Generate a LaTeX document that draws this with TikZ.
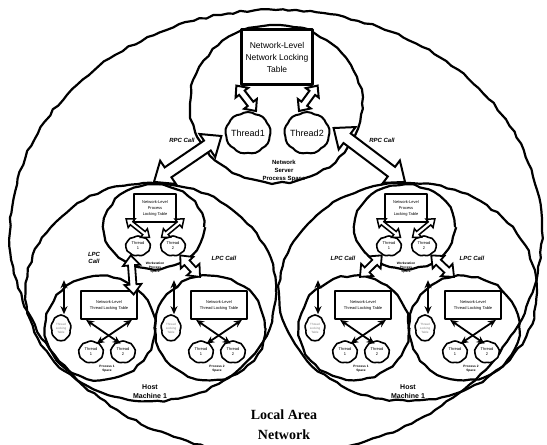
\documentclass[tikz,border=0pt]{standalone}
\usepackage{fontspec}
\setmainfont{Liberation Sans}
\newfontfamily\lanfont{Liberation Serif}
\usetikzlibrary{shapes.geometric,shapes.symbols,arrows.meta,decorations.pathmorphing,calc}
% hollow double-headed arrow: #1 options, #2 from, #3 to, #4 shaft half width, #5 head half width, #6 head length
\newcommand{\hollowdbl}[6]{%
  \draw[#1] (#2) -- ($(#2)!#6!(#3)!#5!90:(#3)$) -- ($(#2)!#6!(#3)!#4!90:(#3)$)
    -- ($(#3)!#6!(#2)!#4!-90:(#2)$) -- ($(#3)!#6!(#2)!#5!-90:(#2)$) -- (#3)
    -- ($(#3)!#6!(#2)!#5!90:(#2)$) -- ($(#3)!#6!(#2)!#4!90:(#2)$)
    -- ($(#2)!#6!(#3)!#4!-90:(#3)$) -- ($(#2)!#6!(#3)!#5!-90:(#3)$) -- cycle;}
\begin{document}
\begin{tikzpicture}[x=1pt,y=-1pt,line join=round,
  rough/.style={draw,line width=2.2pt,decorate,decoration={random steps,segment length=7pt,amplitude=1.1pt}},
  blob/.style={rough,ellipse,inner sep=0pt},
  tbox/.style={draw,line width=2.2pt,fill=white,align=center,inner sep=1pt},
  thr/.style={draw,line width=2pt,cloud,cloud puffs=9,cloud puff arc=70,cloud ignores aspect,fill=white,align=center,inner sep=0pt},
  harr/.style={draw,fill=white,line width=2pt,line join=miter,miter limit=3},
  blkarr/.style={line width=1.8pt,{Stealth[length=8pt,width=7pt]}-{Stealth[length=8pt,width=7pt]}},
  lbl/.style={font=\bfseries\itshape\fontsize{6}{7}\selectfont,align=center},
  tiny/.style={font=\bfseries\fontsize{3.2}{4}\selectfont,align=center}
]
\pgfmathsetseed{11}
\useasboundingbox (0,0) rectangle (547,445);
% LAN
\node[blob,minimum width=532pt,minimum height=444pt] (lan) at (276,232) {};
\node[font=\lanfont\bfseries\fontsize{14}{20}\selectfont,align=center] (lanl) at (284,425) {Local Area\\Network};
% server
\node[blob,minimum width=172pt,minimum height=158pt] (srv) at (276,104) {};
\node[tbox,minimum width=71pt,minimum height=55pt,font=\fontsize{8.5}{12}\selectfont] (tbl) at (277,57) {Network-Level\\Network Locking\\Table};
\node[thr,minimum width=40pt,minimum height=42pt,font=\fontsize{9}{10}\selectfont] (s1) at (248,133) {Thread1};
\node[thr,minimum width=44pt,minimum height=42pt,font=\fontsize{9}{10}\selectfont] (s2) at (307,133) {Thread2};
\node[font=\bfseries\fontsize{6}{8}\selectfont,align=center] (srvl) at (284,171) {Network\\Server\\Process Space};
\coordinate (a1) at ([xshift=-4pt]tbl.south west);
\coordinate (a2) at ([xshift=8pt]s1.north);
\coordinate (a3) at ([xshift=4pt]tbl.south east);
\coordinate (a4) at ([xshift=-8pt]s2.north);
\hollowdbl{harr}{a1}{a2}{3.5pt}{8pt}{9pt}
\hollowdbl{harr}{a3}{a4}{3.5pt}{8pt}{9pt}
% hosts
\node[blob,minimum width=250pt,minimum height=218pt] (h1) at (151,292) {};
\node[blob,minimum width=258pt,minimum height=218pt] (h2) at (408,292) {};
\node[font=\bfseries\fontsize{7}{9}\selectfont,align=center] (h1l) at (150,392) {Host\\Machine 1};
\node[font=\bfseries\fontsize{7}{9}\selectfont,align=center] (h2l) at (408,392) {Host\\Machine 1};
% client process spaces
\foreach \n/\x in {1/154,2/405}{
  \node[blob,minimum width=100pt,minimum height=84pt] (cp\n) at (\x,227) {};
  \node[tbox,line width=1.8pt,minimum width=42pt,minimum height=28pt,font=\fontsize{4}{6}\selectfont] (cb\n) at (\x+1,208) {Network-Level\\Process\\Locking Table};
  \node[thr,line width=1.6pt,minimum width=25pt,minimum height=20pt,font=\fontsize{4}{5}\selectfont] (ct\n1) at (\x-16,246) {Thread\\1};
  \node[thr,line width=1.6pt,minimum width=25pt,minimum height=20pt,font=\fontsize{4}{5}\selectfont] (ct\n2) at (\x+19,246) {Thread\\2};
  \node[tiny] (cpl\n) at (\x+1,268) {Workstation\\Process\\Space};
  \coordinate (c\n a) at ([shift={(-7pt,4pt)}]cb\n.south west);
  \coordinate (c\n b) at ([shift={(2pt,1pt)}]ct\n1.north east);
  \coordinate (c\n c) at ([shift={(7pt,4pt)}]cb\n.south east);
  \coordinate (c\n d) at ([shift={(-2pt,1pt)}]ct\n2.north west);
  \hollowdbl{harr,line width=1.5pt}{c\n a}{c\n b}{2pt}{5.5pt}{7pt}
  \hollowdbl{harr,line width=1.5pt}{c\n c}{c\n d}{2pt}{5.5pt}{7pt}
}
% inner thread spaces
\foreach \n/\x/\q in {11/100/1,12/210/2,21/354/1,22/464/2}{
  \node[blob,minimum width=110pt,minimum height=104pt] (p\n) at (\x,328) {};
  \node[tbox,line width=1.8pt,minimum width=56pt,minimum height=28pt,font=\fontsize{4}{6}\selectfont] (b\n) at (\x+9,305) {Network-Level\\Thread Locking Table};
  \node[thr,line width=1.6pt,minimum width=25pt,minimum height=22pt,font=\fontsize{4}{5}\selectfont] (t\n a) at (\x-9,352) {Thread\\1};
  \node[thr,line width=1.6pt,minimum width=25pt,minimum height=22pt,font=\fontsize{4}{5}\selectfont] (t\n b) at (\x+23,352) {Thread\\2};
  \node[thr,line width=1.6pt,minimum width=20pt,minimum height=26pt,font=\fontsize{3}{4}\selectfont,text=gray] (lk\n) at (\x-39,328) {Thread\\Locking\\Table};
  \node[tiny] (pl\n) at (\x+7,369) {Process \q\\Space};
  \draw[blkarr] ([xshift=6pt]b\n.south west) -- ([xshift=7pt]t\n b.north west);
  \draw[blkarr] ([xshift=-6pt]b\n.south east) -- ([xshift=-4pt]t\n a.north east);
  \draw[blkarr] ([xshift=3pt]lk\n.north) -- ([shift={(3pt,34pt)}]lk\n.north);
}
% RPC calls between server and hosts
\coordinate (r1) at ([shift={(-3pt,-3pt)}]s1.west);
\coordinate (r2) at ([yshift=2pt]cp1.north);
\coordinate (r3) at ([shift={(3pt,5pt)}]s2.east);
\coordinate (r4) at ([yshift=2pt]cp2.north);
\hollowdbl{harr}{r1}{r2}{6pt}{14pt}{17pt}
\hollowdbl{harr}{r3}{r4}{6pt}{14pt}{17pt}
\node[lbl] (rpcl) at (182,140) {RPC Call};
\node[lbl] (rpcr) at (382,140) {RPC Call};
% LPC calls inside hosts
\coordinate (q1) at ([shift={(2pt,-2pt)}]ct11.south west);
\coordinate (q2) at ([shift={(-6pt,-4pt)}]p11.north east);
\coordinate (q3) at ([shift={(-2pt,-2pt)}]ct12.south east);
\coordinate (q4) at ([shift={(-10pt,-2pt)}]p12.north);
\coordinate (q5) at ([shift={(2pt,-2pt)}]ct21.south west);
\coordinate (q6) at ([shift={(6pt,-2pt)}]p21.north);
\coordinate (q7) at ([shift={(-2pt,-2pt)}]ct22.south east);
\coordinate (q8) at ([shift={(-10pt,-2pt)}]p22.north);
\hollowdbl{harr,line width=1.8pt}{q1}{q2}{3.5pt}{8.5pt}{10pt}
\hollowdbl{harr,line width=1.8pt}{q3}{q4}{3.5pt}{8.5pt}{10pt}
\hollowdbl{harr,line width=1.8pt}{q5}{q6}{3.5pt}{8.5pt}{10pt}
\hollowdbl{harr,line width=1.8pt}{q7}{q8}{3.5pt}{8.5pt}{10pt}
\node[lbl] (l11) at (94,258) {LPC\\Call};
\node[lbl] (l12) at (224,258) {LPC Call};
\node[lbl] (l21) at (343,258) {LPC Call};
\node[lbl] (l22) at (472,258) {LPC Call};
\end{tikzpicture}
\end{document}
